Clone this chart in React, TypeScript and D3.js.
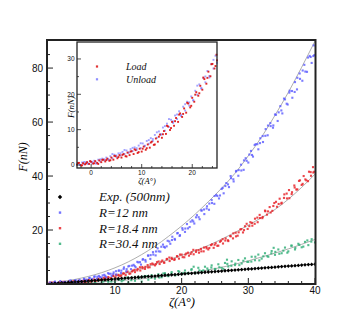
import React from 'react';
import * as d3 from 'd3';

// main plot: zeta (A°) vs F (nN)
const expPts: [number, number][] = [
  [0.5, 0.1], [1, 0.2], [1.5, 0.3], [2, 0.35], [2.5, 0.45], [3, 0.55], [3.5, 0.65], [4, 0.75], [4.5, 0.8], [5, 0.9],
  [5.5, 1.0], [6, 1.1], [6.5, 1.2], [7, 1.3], [7.5, 1.4], [8, 1.5], [8.5, 1.55], [9, 1.65], [9.5, 1.75], [10, 1.85],
  [10.5, 1.95], [11, 2.05], [11.5, 2.15], [12, 2.2], [12.5, 2.3], [13, 2.4], [13.5, 2.5], [14, 2.6], [14.5, 2.7], [15, 2.8],
  [15.5, 2.85], [16, 2.95], [16.5, 3.05], [17, 3.15], [17.5, 3.25], [18, 3.35], [18.5, 3.4], [19, 3.5], [19.5, 3.6], [20, 3.7],
  [20.5, 3.8], [21, 3.9], [21.5, 3.95], [22, 4.05], [22.5, 4.15], [23, 4.25], [23.5, 4.35], [24, 4.45], [24.5, 4.5], [25, 4.6],
  [25.5, 4.7], [26, 4.8], [26.5, 4.9], [27, 5.0], [27.5, 5.05], [28, 5.15], [28.5, 5.25], [29, 5.35], [29.5, 5.45], [30, 5.55],
  [30.5, 5.6], [31, 5.7], [31.5, 5.8], [32, 5.9], [32.5, 6.0], [33, 6.1], [33.5, 6.15], [34, 6.25], [34.5, 6.35], [35, 6.45],
  [35.5, 6.55], [36, 6.65], [36.5, 6.7], [37, 6.8], [37.5, 6.9], [38, 7.0], [38.5, 7.1], [39, 7.2], [39.5, 7.25], [40, 7.35],
];

// R = 12 nm, two passes
const r12Pts: [number, number][] = [
  [0.3, 0.6], [0.7, 0.2], [1.0, 0.9], [1.4, 0.4], [1.8, 1.1], [2.1, 0.3], [2.5, 0.8], [2.9, 0.5], [3.2, 1.2], [3.6, 0.6],
  [4.0, 1.3], [4.3, 0.5], [4.7, 1.5], [5.1, 0.9], [5.4, 1.8], [5.8, 1.2], [6.2, 2.3], [6.5, 1.4], [6.9, 2.6], [7.3, 1.9],
  [7.6, 3.0], [8.0, 2.4], [8.4, 3.4], [8.7, 2.5], [9.1, 3.8], [9.5, 3.0], [9.8, 4.3], [10.2, 3.5], [10.6, 5.0], [10.9, 4.1],
  [11.3, 5.6], [11.7, 4.7], [12.0, 6.5], [12.4, 5.5], [12.8, 7.1], [13.1, 6.2], [13.5, 8.0], [13.9, 7.2], [14.2, 9.2], [14.6, 8.3],
  [15.0, 10.5], [15.3, 9.3], [15.7, 11.8], [16.1, 10.6], [16.4, 13.2], [16.8, 12.0], [17.2, 14.6], [17.5, 13.5], [17.9, 16.0], [18.3, 14.9],
  [18.6, 17.5], [19.0, 16.4], [19.4, 18.9], [19.7, 17.8], [20.1, 20.7], [20.5, 19.3], [20.8, 22.2], [21.2, 21.1], [21.6, 23.6], [21.9, 22.4],
  [22.3, 25.5], [22.7, 24.0], [23.0, 27.2], [23.4, 25.9], [23.8, 28.8], [24.1, 27.5], [24.5, 31.1], [24.9, 29.7], [25.2, 33.0], [25.6, 31.7],
  [26.0, 35.2], [26.3, 33.6], [26.7, 37.4], [27.1, 35.9], [27.4, 39.2], [27.8, 38.0], [28.2, 41.9], [28.5, 40.1], [28.9, 44.2], [29.3, 42.3],
  [29.6, 46.6], [30.0, 45.0], [30.4, 49.3], [30.7, 47.2], [31.1, 51.8], [31.5, 49.9], [31.8, 54.0], [32.2, 52.6], [32.6, 57.4], [32.9, 55.1],
  [33.3, 59.6], [33.7, 57.9], [34.0, 62.8], [34.4, 60.4], [34.8, 65.9], [35.1, 63.2], [35.5, 68.4], [35.9, 66.5], [36.2, 71.6], [36.6, 69.0],
  [37.0, 74.8], [37.3, 72.1], [37.7, 78.0], [38.1, 75.3], [38.4, 81.2], [38.8, 78.6], [39.2, 84.5], [39.5, 81.9], [39.8, 88.4], [39.9, 84.8],
];
const r12Pts2: [number, number][] = [
  [0.15, 0.2], [0.55, 0.0], [0.95, 0.7], [1.35, 0.3], [1.75, 0.05], [2.15, 0.7], [2.55, 0.6], [2.95, 0.5], [3.35, 1.3], [3.75, 0.6],
  [4.15, 1.3], [4.55, 1.2], [4.95, 0.9], [5.35, 1.9], [5.75, 1.6], [6.15, 2.2], [6.55, 1.9], [6.95, 2.85], [7.35, 2.7], [7.75, 2.6],
  [8.15, 3.2], [8.55, 3.0], [8.95, 4.0], [9.35, 3.8], [9.75, 3.7], [10.15, 4.75], [10.55, 4.9], [10.95, 4.95], [11.35, 6.15], [11.75, 5.5],
  [12.15, 6.7], [12.55, 6.8], [12.95, 6.65], [13.35, 8.2], [13.75, 8.1], [14.15, 9.0], [14.55, 8.9], [14.95, 10.55], [15.35, 10.7], [15.75, 10.9],
  [16.15, 12.05], [16.55, 12.1], [16.95, 13.8], [17.35, 13.75], [17.75, 13.95], [18.15, 15.75], [18.55, 16.3], [18.95, 16.7], [19.35, 18.75], [19.75, 18.1],
  [20.15, 20.1], [20.55, 20.55], [20.95, 20.6], [21.35, 23.1], [21.75, 23.15], [22.15, 24.7], [22.55, 24.75], [22.95, 27.3], [23.35, 27.6], [23.75, 27.95],
  [24.15, 29.8], [24.55, 30.0], [24.95, 32.6], [25.35, 32.6], [25.75, 32.8], [26.15, 35.6], [26.55, 36.3], [26.95, 36.9], [27.35, 40.0], [27.75, 38.8],
  [28.15, 41.7], [28.55, 42.2], [28.95, 42.05], [29.35, 45.8], [29.75, 45.65], [30.15, 47.95], [30.55, 47.8], [30.95, 51.5], [31.35, 51.8], [31.75, 52.2],
  [32.15, 54.8], [32.55, 54.9], [32.95, 58.7], [33.35, 58.5], [33.75, 58.75], [34.15, 62.7], [34.55, 63.6], [34.95, 64.3], [35.35, 68.7], [35.75, 66.8],
  [36.15, 70.9], [36.55, 71.5], [36.95, 71.15], [37.35, 76.4], [37.75, 76.0], [38.15, 79.1], [38.55, 78.7], [38.95, 83.9], [39.35, 84.1], [39.75, 84.45],
];

// R = 18.4 nm
const r18Pts: [number, number][] = [
  [0.2, 0.5], [0.6, 0.1], [0.9, 0.6], [1.3, 0.2], [1.7, 0.7], [2.0, 0.3], [2.4, 0.8], [2.8, 0.2], [3.1, 0.9], [3.5, 0.4],
  [3.9, 1.0], [4.2, 0.5], [4.6, 1.2], [5.0, 0.6], [5.3, 1.3], [5.7, 0.8], [6.1, 1.5], [6.4, 0.9], [6.8, 1.7], [7.2, 1.2],
  [7.5, 2.0], [7.9, 1.5], [8.3, 2.3], [8.6, 1.6], [9.0, 2.6], [9.4, 2.0], [9.7, 3.1], [10.1, 2.5], [10.5, 3.4], [10.8, 2.9],
  [11.2, 3.9], [11.6, 3.3], [11.9, 4.6], [12.3, 3.9], [12.7, 5.0], [13.0, 4.4], [13.4, 5.6], [13.8, 5.0], [14.1, 6.3], [14.5, 5.6],
  [14.9, 7.0], [15.2, 6.2], [15.6, 7.6], [16.0, 6.9], [16.3, 8.1], [16.7, 7.4], [17.1, 8.7], [17.4, 7.9], [17.8, 9.3], [18.2, 8.5],
  [18.5, 9.7], [18.9, 8.9], [19.3, 10.3], [19.6, 9.4], [20.0, 10.9], [20.4, 9.9], [20.7, 11.3], [21.1, 10.5], [21.5, 11.8], [21.8, 11.0],
  [22.2, 12.5], [22.6, 11.6], [22.9, 13.0], [23.3, 12.1], [23.7, 13.7], [24.0, 12.8], [24.4, 14.4], [24.8, 13.4], [25.1, 15.1], [25.5, 14.2],
  [25.9, 16.0], [26.2, 15.0], [26.6, 16.9], [27.0, 15.9], [27.3, 17.8], [27.7, 16.9], [28.1, 19.0], [28.4, 17.9], [28.8, 20.2], [29.2, 19.1],
  [29.5, 21.4], [29.9, 20.4], [30.3, 22.9], [30.6, 21.6], [31.0, 24.2], [31.4, 22.9], [31.7, 25.6], [32.1, 24.4], [32.5, 27.2], [32.8, 25.7],
  [33.2, 28.5], [33.6, 27.1], [33.9, 30.0], [34.3, 28.6], [34.7, 31.6], [35.0, 30.1], [35.4, 33.2], [35.8, 31.7], [36.1, 34.8], [36.5, 33.3],
  [36.9, 36.5], [37.2, 35.0], [37.6, 38.2], [38.0, 36.7], [38.3, 40.0], [38.7, 38.4], [39.1, 41.6], [39.4, 40.1], [39.7, 43.3], [39.9, 41.6],
];
const r18Pts2: [number, number][] = [
  [0.15, 0.05], [0.55, 0.55], [0.95, 0.35], [1.35, 0.0], [1.75, 0.55], [2.15, 0.8], [2.55, 0.4], [2.95, 0.3], [3.35, 0.7], [3.75, 1.0],
  [4.15, 0.35], [4.55, 0.8], [4.95, 1.1], [5.35, 0.8], [5.75, 1.5], [6.15, 1.05], [6.55, 1.4], [6.95, 1.1], [7.35, 1.85], [7.75, 1.65],
  [8.15, 1.7], [8.55, 2.4], [8.95, 2.3], [9.35, 2.1], [9.75, 2.9], [10.15, 3.4], [10.55, 3.1], [10.95, 3.15], [11.35, 3.9], [11.75, 4.4],
  [12.15, 3.8], [12.55, 4.65], [12.95, 5.25], [13.35, 5.05], [13.75, 6.2], [14.15, 5.8], [14.55, 6.35], [14.95, 6.15], [15.35, 7.35], [15.75, 7.25],
  [16.15, 7.35], [16.55, 8.35], [16.95, 8.25], [17.35, 7.95], [17.75, 9.1], [18.15, 9.8], [18.55, 9.25], [18.95, 9.25], [19.35, 10.2], [19.75, 10.9],
  [20.15, 9.95], [20.55, 10.9], [20.95, 11.6], [21.35, 11.15], [21.75, 12.65], [22.15, 11.9], [22.55, 12.55], [22.95, 12.1], [23.35, 13.5], [23.75, 13.2],
  [24.15, 13.35], [24.55, 14.7], [24.95, 14.55], [25.35, 14.15], [25.75, 15.65], [26.15, 16.6], [26.55, 16.1], [26.95, 16.2], [27.35, 17.65], [27.75, 18.75],
  [28.15, 17.65], [28.55, 19.15], [28.95, 20.35], [29.35, 19.95], [29.75, 22.3], [30.15, 21.45], [30.55, 22.65], [30.95, 22.3], [31.35, 24.6], [31.75, 24.45],
  [32.15, 24.85], [32.55, 26.95], [32.95, 26.9], [33.35, 26.5], [33.75, 28.9], [34.15, 30.45], [34.55, 29.65], [34.95, 29.8], [35.35, 31.9], [35.75, 33.5],
  [36.15, 31.8], [36.55, 34.0], [36.95, 35.75], [37.35, 35.05], [37.75, 38.4], [38.15, 37.1], [38.55, 38.75], [38.95, 38.1], [39.35, 41.45], [39.75, 41.3],
];

// R = 30.4 nm
const r30Pts: [number, number][] = [
  [0.5, 0.3], [1.0, 0.0], [1.5, 0.4], [2.0, 0.1], [2.5, 0.5], [3.0, 0.2], [3.5, 0.6], [4.0, 0.2], [4.5, 0.7], [5.0, 0.3],
  [5.5, 0.9], [6.0, 0.4], [6.5, 1.1], [7.0, 0.5], [7.5, 1.3], [8.0, 0.6], [8.5, 1.5], [9.0, 0.8], [9.5, 1.8], [10.0, 0.7],
  [10.5, 1.9], [11.0, 1.0], [11.5, 2.2], [12.0, 0.6], [12.5, 2.4], [13.0, 1.2], [13.5, 2.7], [14.0, 0.9], [14.5, 2.9], [15.0, 1.6],
  [15.5, 3.3], [16.0, 2.0], [16.5, 3.6], [17.0, 2.5], [17.5, 4.0], [18.0, 2.9], [18.5, 4.4], [19.0, 3.3], [19.5, 4.8], [20.0, 3.6],
  [20.5, 5.0], [21.0, 4.1], [21.5, 5.5], [22.0, 4.3], [22.5, 6.0], [23.0, 4.8], [23.5, 6.4], [24.0, 5.1], [24.5, 6.9], [25.0, 5.6],
  [25.5, 7.3], [26.0, 6.0], [26.5, 7.8], [27.0, 6.5], [27.5, 8.4], [28.0, 7.0], [28.5, 8.9], [29.0, 7.6], [29.5, 9.5], [30.0, 8.2],
  [30.5, 10.1], [31.0, 8.8], [31.5, 10.9], [32.0, 9.4], [32.5, 11.4], [33.0, 10.1], [33.5, 12.2], [34.0, 10.8], [34.5, 12.8], [35.0, 11.4],
  [35.5, 13.5], [36.0, 12.1], [36.5, 14.2], [37.0, 12.8], [37.5, 14.9], [38.0, 13.6], [38.5, 15.6], [39.0, 14.4], [39.5, 16.6], [40.0, 15.4],
  [21.8, 6.4], [26.8, 9.0], [33.8, 13.4],
];
const r30Pts2: [number, number][] = [
  [5.25, 0.9], [5.85, 0.4], [6.45, 0.9], [7.05, 0.33], [7.65, 1.55], [8.25, 0.95], [8.85, 1.4], [9.45, 0.9], [10.05, 1.9], [10.65, 1.55],
  [11.25, 1.4], [11.85, 2.45], [12.45, 1.4], [13.05, 2.25], [13.65, 2.15], [14.25, 2.7], [14.85, 2.95], [15.45, 2.35], [16.05, 2.95], [16.65, 2.4],
  [17.25, 3.9], [17.85, 3.25], [18.45, 3.8], [19.05, 3.25], [19.65, 4.5], [20.25, 4.1], [20.85, 4.0], [21.45, 5.25], [22.05, 4.0], [22.65, 5.05],
  [23.25, 5.05], [23.85, 5.75], [24.45, 6.1], [25.05, 5.45], [25.65, 6.2], [26.25, 5.55], [26.85, 7.45], [27.45, 6.75], [28.05, 7.55], [28.65, 7.0],
  [29.25, 8.6], [29.85, 8.2], [30.45, 8.3], [31.05, 10.1], [31.65, 8.75], [32.25, 10.25], [32.85, 10.3], [33.45, 11.35], [34.05, 11.9], [34.65, 11.2],
  [35.25, 12.35], [35.85, 11.6], [36.45, 14.2], [37.05, 13.4], [37.65, 14.5], [38.25, 13.85], [38.85, 16.15], [39.45, 15.7],
];

// thin gray fit curves
const r12Fit: [number, number][] = [
  [0, 0], [2, 0.8], [4, 1.7], [6, 2.8], [8, 4.2], [10, 6.0], [12, 8.2], [14, 10.9], [16, 14.0], [18, 17.6], [20, 21.5],
  [22, 25.8], [24, 30.5], [26, 35.5], [28, 41.0], [30, 47.5], [32, 54.5], [34, 62.5], [36, 71.0], [38, 80.3], [40, 90],
];
const r18Fit: [number, number][] = [
  [0, 0], [2, 0.3], [4, 0.7], [6, 1.1], [8, 1.7], [10, 2.9], [12, 4.3], [14, 5.8], [16, 7.4], [18, 9.0], [20, 10.6],
  [22, 12.3], [24, 14.3], [26, 16.6], [28, 19.1], [30, 21.8], [32, 24.6], [34, 27.6], [36, 31.4], [38, 35.8], [40, 40.7],
];
const r30Fit: [number, number][] = [
  [0, 0], [4, 0.3], [8, 0.8], [12, 1.5], [16, 2.4], [20, 3.6], [24, 5.2], [28, 7.3], [32, 10.0], [36, 13.0], [40, 16.5],
];

// inset: load / unload
const loadPts: [number, number][] = [
  [-2.8, 0.1], [-2.4, 0.6], [-2.0, -0.1], [-1.6, 0.5], [-1.2, 0.2], [-0.8, 0.8], [-0.4, 0.3], [0.0, 0.9], [0.4, 0.4], [0.8, 1.1],
  [1.2, 0.6], [1.6, 1.3], [2.0, 0.8], [2.4, 1.5], [2.8, 1.0], [3.2, 1.8], [3.6, 1.2], [4.0, 2.1], [4.4, 1.5], [4.8, 2.5],
  [5.2, 1.9], [5.6, 2.8], [6.0, 2.1], [6.4, 3.1], [6.8, 2.5], [7.2, 3.5], [7.6, 2.8], [8.0, 3.9], [8.4, 3.1], [8.8, 4.2],
  [9.2, 3.4], [9.6, 4.6], [10.0, 3.8], [10.4, 5.2], [10.8, 4.3], [11.2, 5.8], [11.6, 4.9], [12.0, 6.6], [12.4, 5.7], [12.8, 7.5],
  [13.2, 6.6], [13.6, 8.6], [14.0, 7.7], [14.4, 9.6], [14.8, 8.8], [15.2, 10.9], [15.6, 9.9], [16.0, 12.2], [16.4, 11.1], [16.8, 13.3],
  [17.2, 12.2], [17.6, 14.6], [18.0, 13.6], [18.4, 16.0], [18.8, 14.8], [19.2, 17.4], [19.6, 16.3], [20.0, 19.0], [20.4, 17.9], [20.8, 20.6],
  [21.2, 19.6], [21.6, 22.4], [22.0, 21.3], [22.4, 24.3], [22.8, 23.0], [23.2, 26.4], [23.6, 25.1], [24.0, 28.6], [24.4, 27.3], [24.8, 31.2],
  [24.9, 29.6],
  [-2.6, 0.55], [-1.8, -0.1], [-1.0, 0.45], [-0.2, 1.1], [0.6, 0.5], [1.4, 0.3], [2.2, 1.45], [3.0, 1.4], [3.8, 1.35], [4.6, 2.6],
  [5.4, 2.25], [6.2, 2.85], [7.0, 2.4], [7.8, 3.8], [8.6, 4.45], [9.4, 3.65], [10.2, 4.6], [11.0, 4.75], [11.8, 6.35], [12.6, 5.8],
  [13.4, 8.0], [14.2, 8.7], [15.0, 11.1], [15.8, 10.45], [16.6, 12.4], [17.4, 14.25], [18.2, 14.45], [19.0, 17.6], [19.8, 16.75], [20.6, 19.9],
  [21.4, 20.3], [22.2, 24.75], [23.0, 24.65], [23.8, 28.5], [24.6, 28.0],
];
const unloadPts: [number, number][] = [
  [-2.6, 0.4], [-2.2, 0.0], [-1.8, 0.7], [-1.4, 0.2], [-1.0, 0.8], [-0.6, 0.3], [-0.2, 1.0], [0.2, 0.5], [0.6, 1.2], [1.0, 0.7],
  [1.4, 1.5], [1.8, 1.0], [2.2, 1.8], [2.6, 1.3], [3.0, 2.1], [3.4, 1.6], [3.8, 2.5], [4.2, 1.9], [4.6, 2.9], [5.0, 2.3],
  [5.4, 3.3], [5.8, 2.7], [6.2, 3.7], [6.6, 3.1], [7.0, 4.1], [7.4, 3.5], [7.8, 4.5], [8.2, 3.9], [8.6, 5.0], [9.0, 4.3],
  [9.4, 5.5], [9.8, 4.8], [10.2, 6.1], [10.6, 5.4], [11.0, 6.8], [11.4, 6.0], [11.8, 7.6], [12.2, 6.8], [12.6, 8.5], [13.0, 7.7],
  [13.4, 9.5], [13.8, 8.6], [14.2, 10.6], [14.6, 9.7], [15.0, 11.7], [15.4, 10.8], [15.8, 12.8], [16.2, 11.9], [16.6, 14.0], [17.0, 13.0],
  [17.4, 15.2], [17.8, 14.2], [18.2, 16.5], [18.6, 15.4], [19.0, 17.9], [19.4, 16.8], [19.8, 19.4], [20.2, 18.3], [20.6, 21.0], [21.0, 19.9],
  [21.4, 22.8], [21.8, 21.6], [22.2, 24.6], [22.6, 23.4], [23.0, 26.6], [23.4, 25.2], [23.8, 28.6], [24.2, 27.3], [24.6, 30.9], [24.9, 28.9],
  [-2.2, 0.05], [-1.4, 0.85], [-0.6, 0.45], [0.2, 0.9], [1.0, 0.35], [1.8, 1.6], [2.6, 1.6], [3.4, 1.55], [4.2, 3.1], [5.0, 2.7],
  [5.8, 3.3], [6.6, 4.25], [7.4, 3.55], [8.2, 4.85], [9.0, 4.75], [9.8, 6.15], [10.6, 5.45], [11.4, 7.05], [12.2, 7.35], [13.0, 9.25],
  [13.8, 8.7], [14.6, 11.0], [15.4, 13.0], [16.2, 12.35], [17.0, 14.3], [17.8, 13.85], [18.6, 17.2], [19.4, 17.7], [20.2, 18.3], [21.0, 22.45],
  [21.8, 21.8], [22.6, 25.05], [23.4, 24.75], [24.2, 29.75],
];

const xTicks = [10, 20, 30, 40];
const yTicks = [20, 40, 60, 80];
const insetXTicks = [0, 10, 20];
const insetYTicks = [0, 10, 20, 30];
const legendLabels = ['Exp. (500nm)', 'R=12 nm', 'R=18.4 nm', 'R=30.4 nm'];
const insetLegend = ['Load', 'Unload'];

const serif = 'Liberation Serif, Times New Roman, serif';
const sans = 'Liberation Sans, Arial, sans-serif';

const BLUE = '#5a5aff';
const RED = '#e8262c';
const GREEN = '#35b07a';
const LOAD = '#dd1010';
const UNLOAD = '#7a7aff';

const diamond = (cx: number, cy: number, r: number) =>
  `M${cx},${cy - r}L${cx + r},${cy}L${cx},${cy + r}L${cx - r},${cy}Z`;

export default function App() {
  const L = 47, R = 315.5, T = 40, B = 284;
  const x = d3.scaleLinear().domain([0, 40]).range([48.3, 315]);
  const y = d3.scaleLinear().domain([0, 90.4]).range([284, 40]);

  const iL = 77, iR = 217, iT = 42, iB = 168;
  const ix = d3.scaleLinear().domain([-2.8, 24.9]).range([iL, iR]);
  const iy = d3.scaleLinear().domain([-0.85, 34.8]).range([iB, iT]);

  const fitLine = d3.line<[number, number]>()
    .x(d => x(d[0]))
    .y(d => y(d[1]))
    .curve(d3.curveMonotoneX);

  const xMinor = d3.range(0, 41, 2).filter(v => v % 10 !== 0);
  const yMinor = d3.range(5, 90, 5).filter(v => v % 20 !== 0);
  const ixMinor = d3.range(-2, 25, 2).filter(v => v % 10 !== 0);
  const iyMinor = [5, 15, 25];

  const sq = (px: number, py: number, s: number, fill: string, key: string, op = 0.85) => (
    <rect key={key} x={px - s / 2} y={py - s / 2} width={s} height={s} fill={fill} opacity={op} />
  );

  return (
    <svg width={360} height={320} style={{ position: 'absolute', left: 0, top: 0, background: '#fff' }}>
      <defs>
        <clipPath id="plot">
          <rect x={L} y={T} width={R - L} height={B - T} />
        </clipPath>
      </defs>

      {/* data */}
      <g clipPath="url(#plot)">
        <path d={fitLine(r12Fit) || ''} fill="none" stroke="#999" strokeWidth={0.8} />
        <path d={fitLine(r18Fit) || ''} fill="none" stroke="#999" strokeWidth={0.8} />
        <path d={fitLine(r30Fit) || ''} fill="none" stroke="#999" strokeWidth={0.8} />
        {r30Pts.concat(r30Pts2).map((d, i) => sq(x(d[0]), y(d[1]), 2.1, GREEN, 'g' + i))}
        {r18Pts.concat(r18Pts2).map((d, i) => sq(x(d[0]), y(d[1]), 2.1, RED, 'r' + i))}
        {r12Pts.concat(r12Pts2).map((d, i) => sq(x(d[0]), y(d[1]), 2.1, BLUE, 'b' + i, 0.8))}
        {expPts.map((d, i) => (
          <path key={'e' + i} d={diamond(x(d[0]), y(d[1]), 1.9)} fill="#000" />
        ))}
      </g>

      {/* ticks (inside) */}
      <g stroke="#222" strokeWidth={1}>
        {xTicks.map(t => <line key={'xt' + t} x1={x(t)} x2={x(t)} y1={B} y2={B - 6} />)}
        {xMinor.map(t => <line key={'xm' + t} x1={x(t)} x2={x(t)} y1={B} y2={B - 3} />)}
        {yTicks.map(t => <line key={'yt' + t} x1={L} x2={L + 6} y1={y(t)} y2={y(t)} />)}
        {yMinor.map(t => <line key={'ym' + t} x1={L} x2={L + 3} y1={y(t)} y2={y(t)} />)}
      </g>
      <rect x={L} y={T} width={R - L} height={B - T} fill="none" stroke="#222" strokeWidth={2} />

      <g fontFamily={sans} fontSize={10} fill="#111">
        {xTicks.map(t => (
          <text key={'xl' + t} x={x(t)} y={294} textAnchor="middle">{t}</text>
        ))}
        {yTicks.map(t => (
          <text key={'yl' + t} x={43} y={y(t)} dy="0.35em" textAnchor="end">{t}</text>
        ))}
      </g>
      <text x={182} y={306} textAnchor="middle" fontFamily={serif} fontStyle="italic" fontSize={12.5}>ζ(A°)</text>
      <text transform="translate(27,157) rotate(-90)" textAnchor="middle" fontFamily={serif} fontStyle="italic" fontSize={12}>F(nN)</text>

      {/* legend */}
      {legendLabels.map((lab, i) => {
        const ly = 197 + i * 15.6;
        const fill = [null, BLUE, RED, GREEN][i];
        return (
          <g key={'lg' + i}>
            {i === 0
              ? <path d={diamond(60, ly, 2.2)} fill="#000" />
              : sq(60, ly, 2.4, fill as string, 'lm' + i)}
            <text x={99} y={ly + 4.3} fontFamily={serif} fontStyle="italic" fontSize={13} fill="#111">{lab}</text>
          </g>
        );
      })}

      {/* inset */}
      <rect x={iL} y={iT} width={iR - iL} height={iB - iT} fill="#fff" />
      <g>
        {unloadPts.map((d, i) => sq(ix(d[0]), iy(d[1]), 1.9, UNLOAD, 'u' + i, 0.7))}
        {loadPts.map((d, i) => sq(ix(d[0]), iy(d[1]), 1.9, LOAD, 'l' + i, 0.9))}
      </g>
      <g stroke="#222" strokeWidth={0.8}>
        {insetXTicks.map(t => <line key={'ixt' + t} x1={ix(t)} x2={ix(t)} y1={iB} y2={iB - 4} />)}
        {ixMinor.map(t => <line key={'ixm' + t} x1={ix(t)} x2={ix(t)} y1={iB} y2={iB - 2} />)}
        {insetYTicks.map(t => <line key={'iyt' + t} x1={iL} x2={iL + 4} y1={iy(t)} y2={iy(t)} />)}
        {iyMinor.map(t => <line key={'iym' + t} x1={iL} x2={iL + 2} y1={iy(t)} y2={iy(t)} />)}
      </g>
      <rect x={iL} y={iT} width={iR - iL} height={iB - iT} fill="none" stroke="#222" strokeWidth={1.3} />
      <g fontFamily={sans} fontSize={6.5} fill="#111">
        {insetXTicks.map(t => (
          <text key={'ixl' + t} x={ix(t)} y={175} textAnchor="middle">{t}</text>
        ))}
        {insetYTicks.map(t => (
          <text key={'iyl' + t} x={74.5} y={iy(t)} dy="0.35em" textAnchor="end">{t}</text>
        ))}
      </g>
      <text x={147} y={184} textAnchor="middle" fontFamily={serif} fontStyle="italic" fontSize={8.5}>ζ(A°)</text>
      <text transform="translate(74,107) rotate(-90)" textAnchor="middle" fontFamily={serif} fontStyle="italic" fontSize={9}>F(nN)</text>
      {insetLegend.map((lab, i) => {
        const ly = 66.5 + i * 12.8;
        return (
          <g key={'il' + i}>
            {sq(97, ly, 2.2, i === 0 ? LOAD : UNLOAD, 'ilm' + i)}
            <text x={126} y={ly + 3.3} fontFamily={serif} fontStyle="italic" fontSize={10} fill="#111">{lab}</text>
          </g>
        );
      })}
    </svg>
  );
}
